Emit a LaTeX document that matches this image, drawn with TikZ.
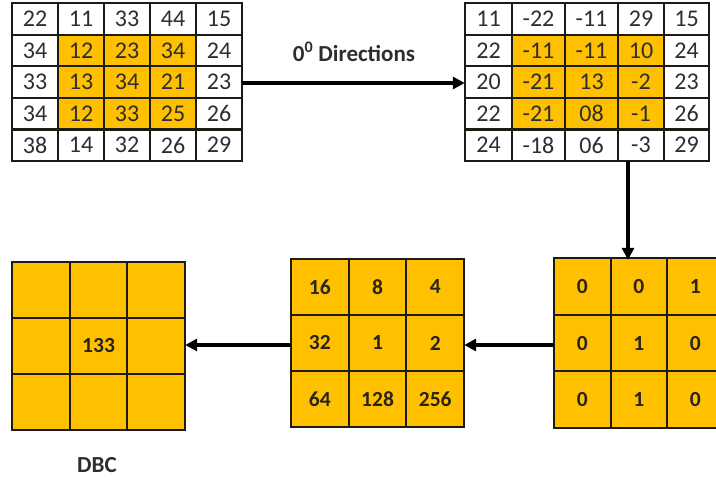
\documentclass[tikz,border=0pt]{standalone}
\usepackage{fontspec}
\setmainfont{Carlito}
\usetikzlibrary{arrows.meta,calc}
\definecolor{gold}{HTML}{FFC000}
\definecolor{txt}{HTML}{2E2E2E}
\definecolor{btxt}{HTML}{2A2418}
\definecolor{edge}{HTML}{1E1A14}
\begin{document}
\begin{tikzpicture}[x=1pt,y=-1pt,
  tcell/.style={draw=edge, line width=2.2pt, inner sep=0pt, text=txt,
    font=\fontsize{24}{24}\selectfont},
  bcell/.style={draw=edge, fill=gold, line width=2pt, inner sep=0pt, text=btxt,
    font=\fontsize{21.5}{21.5}\selectfont\bfseries},
  frame/.style={inner sep=0pt, draw=none},
  conn/.style={line width=3.4pt, draw=black, -{Triangle[length=12pt,width=12pt]}},
  lbl/.style={text=txt, font=\fontsize{23}{23}\selectfont\bfseries}]
\useasboundingbox (0,0) rectangle (716,480);
\clip (0,0) rectangle (716,480);
% ---- top-left grid
\foreach \r/\row in {1/{22,11,33,44,15},2/{34,12,23,34,24},3/{33,13,34,21,23},4/{34,12,33,25,26},5/{38,14,32,26,29}}{
  \foreach \v [count=\c] in \row {
    \pgfmathtruncatemacro\inn{(\r>1)*(\r<5)*(\c>1)*(\c<5)}
    \ifnum\inn=1 \def\fc{gold}\else\def\fc{white}\fi
    \node[tcell, fill=\fc, minimum width=46pt, minimum height=31.6pt]
      (a-\r-\c) at ({12+46*(\c-0.5)},{3+31.6*(\r-0.5)}) {\v};
  }
}
\node[frame, minimum width=230pt, minimum height=158pt] (A) at (127,83) {};
% ---- top-right grid
\foreach \r/\row in {1/{11,-22,-11,29,15},2/{22,-11,-11,10,24},3/{20,-21,13,-2,23},4/{22,-21,08,-1,26},5/{24,-18,06,-3,29}}{
  \foreach \v [count=\c] in \row {
    \pgfmathtruncatemacro\inn{(\r>1)*(\r<5)*(\c>1)*(\c<5)}
    \ifnum\inn=1 \def\fc{gold}\else\def\fc{white}\fi
    \pgfmathsetmacro\xl{{465,512,565,618,664,709}[\c-1]}
    \pgfmathsetmacro\xr{{465,512,565,618,664,709}[\c]}
    \pgfmathsetmacro\xw{\xr-\xl}
    \node[tcell, fill=\fc, minimum width=\xw pt, minimum height=31.6pt]
      (b-\r-\c) at ({(\xl+\xr)/2},{3+31.6*(\r-0.5)}) {\v};
  }
}
\node[frame, minimum width=244pt, minimum height=158pt] (B) at (587,82) {};
% ---- bottom-right grid
\foreach \r/\row in {1/{0,0,1},2/{0,1,0},3/{0,1,0}}{
  \foreach \v [count=\c] in \row {
    \node[bcell, minimum width=56.5pt, minimum height=56.7pt]
      (r-\r-\c) at ({554+56.5*(\c-0.5)},{258+56.7*(\r-0.5)}) {\v};
  }
}
\node[frame, minimum width=169.5pt, minimum height=170pt] (R) at (638.75,345) {};
% ---- bottom-middle grid
\foreach \r/\row in {1/{16,8,4},2/{32,1,2},3/{64,128,256}}{
  \foreach \v [count=\c] in \row {
    \node[bcell, minimum width=57.7pt, minimum height=56pt]
      (m-\r-\c) at ({291+57.7*(\c-0.5)},{259+56*(\r-0.5)}) {\v};
  }
}
\node[frame, minimum width=173pt, minimum height=168pt] (M) at (377.5,345) {};
% ---- bottom-left grid
\foreach \r/\row in {1/{,,},2/{,133,},3/{,,}}{
  \foreach \v [count=\c] in \row {
    \node[bcell, minimum width=57.7pt, minimum height=56pt]
      (l-\r-\c) at ({12+57.7*(\c-0.5)},{262+56*(\r-0.5)}) {\v};
  }
}
\node[frame, minimum width=173pt, minimum height=168pt] (L) at (98.5,346) {};
% ---- labels
\node[lbl] (dir) at (354,52) {0\textsuperscript{0} Directions};
\node[lbl] (dbc) at (97,465) {DBC};
% ---- connectors
\coordinate (vx) at (628,0);
\draw[conn] (A.east) -- (A.east -| B.west);
\draw[conn] (B.south -| vx) -- (R.north -| vx);
\draw[conn] (R.west) -- (R.west -| M.east);
\draw[conn] (M.west) -- (M.west -| L.east);
\end{tikzpicture}
\end{document}
